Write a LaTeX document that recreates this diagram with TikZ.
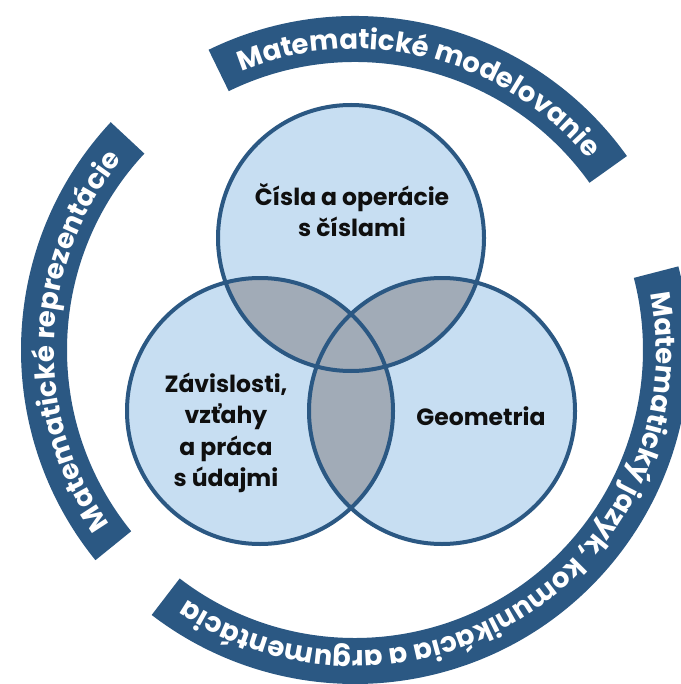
\documentclass[tikz,border=0pt]{standalone}
\usepackage{fontspec}
\setmainfont{Poppins}
\usetikzlibrary{decorations.text}
\definecolor{bandblue}{RGB}{43,88,131}
\definecolor{lightfill}{RGB}{199,222,242}
\definecolor{overlapgray}{RGB}{161,171,183}
\definecolor{inktext}{RGB}{15,15,15}
\begin{document}
\begin{tikzpicture}[x=1pt,y=1pt,
  vennline/.style={draw=bandblue, line width=4pt},
  circlabel/.style={font=\bfseries\fontsize{23.5}{31.5}\selectfont, align=center, text=inktext, inner sep=0pt},
  bandfill/.style={fill=bandblue},
  bandtext/.style={decorate, decoration={text along path, text align=center,
      text={|\bfseries\fontsize{27.5}{27.5}\selectfont\color{white}|#1}}}
]
\useasboundingbox (0,0) rectangle (680,-684);
% centres
\coordinate (T) at (351,-238);
\coordinate (L) at (260,-411);
\coordinate (R) at (442,-411);
\coordinate (O) at (355,-350);
% circle fills
\fill[lightfill] (T) circle[radius=133pt] (L) circle[radius=133pt] (R) circle[radius=133pt];
\begin{scope}
  \clip (T) circle[radius=133pt];
  \fill[overlapgray] (L) circle[radius=133pt] (R) circle[radius=133pt];
\end{scope}
\begin{scope}
  \clip (L) circle[radius=133pt];
  \fill[overlapgray] (R) circle[radius=133pt];
\end{scope}
\draw[vennline] (T) circle[radius=133pt];
\draw[vennline] (L) circle[radius=133pt];
\draw[vennline] (R) circle[radius=133pt];
% labels
\node[circlabel] (num) at (352,-210) {Čísla a operácie\\s číslami};
\node[circlabel] (zav) at (226,-433) {Závislosti,\\vzťahy\\a práca\\s údajmi};
\node[circlabel] (geo) at (481,-416) {Geometria};
% outer bands
\begin{scope}[shift={(O)}]
  \fill[bandfill] (116:334pt) arc[start angle=116, end angle=35.5, radius=334pt]
    -- (35.5:288pt) arc[start angle=35.5, end angle=116, radius=288pt] -- cycle;
  \fill[bandfill] (219:334pt) arc[start angle=219, end angle=137, radius=334pt]
    -- (137:288pt) arc[start angle=137, end angle=219, radius=288pt] -- cycle;
  \fill[bandfill] (14.5:334pt) arc[start angle=14.5, end angle=-127.5, radius=334pt]
    -- (-127.5:288pt) arc[start angle=-127.5, end angle=14.5, radius=288pt] -- cycle;
  \path[bandtext={Matematické modelovanie}] (116:301pt) arc[start angle=116, end angle=35.5, radius=301pt];
  \path[bandtext={Matematické reprezentácie}] (219:301pt) arc[start angle=219, end angle=137, radius=301pt];
  \path[bandtext={Matematický jazyk, komunikácia a argumentácia}] (14.5:301pt) arc[start angle=14.5, end angle=-127.5, radius=301pt];
\end{scope}
\end{tikzpicture}
\end{document}
